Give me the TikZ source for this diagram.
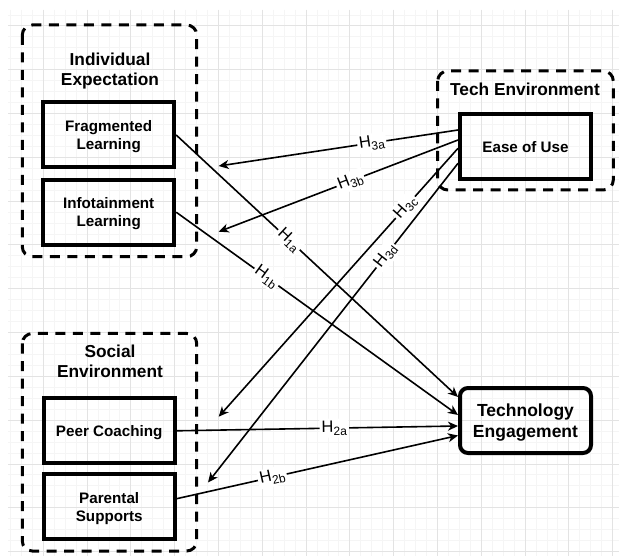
\documentclass[tikz,border=0pt]{standalone}
\usepackage{fontspec}
\setmainfont{Liberation Sans}
\usetikzlibrary{arrows.meta}

\newcommand{\hyplabel}[2]{#1\raisebox{-3.5pt}{\fontsize{12}{14}\selectfont #2}}

\begin{document}
\begin{tikzpicture}[
    x=1pt,y=-1pt,
    grid minor/.style={black!4,line width=1pt},
    grid major/.style={black!11,line width=1pt},
    group/.style={line width=3pt,rounded corners=10pt,
        dash pattern=on 10pt off 7.5pt},
    title/.style={align=center,
        font={\fontsize{17.3}{20}\selectfont\bfseries}},
    factor/.style={draw,line width=4pt,minimum width=131pt,
        minimum height=65pt,align=center,text depth=-3pt,
        font={\fontsize{15.2}{18}\selectfont\bfseries}},
    outcome/.style={factor,rounded corners=8pt,
        font={\fontsize{17.5}{21}\selectfont\bfseries}},
    hyp/.style={-{Stealth[length=10pt,width=9pt,inset=3pt]},
        line width=1.6pt},
    hlabel/.style={fill=white,sloped,inner sep=2pt,
        font={\fontsize{16.5}{18}\selectfont}},
    ]
    \useasboundingbox (0,0) rectangle (619,556);
    % Background grid
    \fill[white] (0,0) rectangle (619,556);
    \foreach \i in {-3,...,52}
        \draw[grid minor] ({43.3+10.95*\i},10) -- ({43.3+10.95*\i},556);
    \foreach \j in {-1,...,48}
        \draw[grid minor] (8,{26+10.95*\j}) -- (619,{26+10.95*\j});
    \foreach \i in {0,...,13}
        \draw[grid major] ({43.3+43.8*\i},10) -- ({43.3+43.8*\i},556);
    \foreach \j in {0,...,12}
        \draw[grid major] (8,{26+43.8*\j}) -- (619,{26+43.8*\j});
    % Groups
    \draw[group] (22.3,25) rectangle (196.7,256.7);
    \draw[group] (437.7,71) rectangle (613.3,190);
    \draw[group] (22.3,333.5) rectangle (196.7,551);
    \node[title] (indiv) at (110,71) {Individual\\Expectation};
    \node[title] (tech) at (525,89.3) {Tech Environment};
    \node[title] (social) at (110,361) {Social\\Environment};
    % Factors
    \node[factor] (frag) at (108.7,135) {Fragmented\\Learning};
    \node[factor] (info) at (108.7,212.2) {Infotainment\\Learning};
    \node[factor] (ease) at (525.5,146.7) {Ease of Use};
    \node[factor] (peer) at (109.2,430.8) {Peer Coaching};
    \node[factor] (parent) at (109.2,506.7) {Parental\\Supports};
    \node[outcome] (engage) at (525.5,420.5) {Technology\\Engagement};
    % Free ends of the H3 arrows
    \coordinate (h3a) at (218.7,166);
    \coordinate (h3b) at (218.7,231.7);
    \coordinate (h3c) at (218.7,416.7);
    \coordinate (h3d) at (208,482.5);
    % Hypotheses H1, H2
    \draw[hyp] (frag.east) -- ([yshift=23.5pt]engage.west)
        node[hlabel,pos=0.4] {\hyplabel{H}{1a}};
    \draw[hyp] (info.east) -- ([yshift=5.5pt]engage.west)
        node[hlabel,pos=0.32] {\hyplabel{H}{1b}};
    \draw[hyp] (peer.east) -- ([yshift=-5.5pt]engage.west)
        node[hlabel,pos=0.56] {\hyplabel{H}{2a}};
    \draw[hyp] ([yshift=8pt]parent.east) -- ([yshift=-15pt]engage.west)
        node[hlabel,pos=0.34] {\hyplabel{H}{2b}};
    % Hypotheses H3
    \draw[hyp] ([yshift=16.7pt]ease.west) -- (h3a)
        node[hlabel,pos=0.36] {\hyplabel{H}{3a}};
    \draw[hyp] ([yshift=6.7pt]ease.west) -- (h3b)
        node[hlabel,pos=0.45] {\hyplabel{H}{3b}};
    \draw[hyp] ([yshift=-1.6pt]ease.west) -- (h3c)
        node[hlabel,pos=0.22] {\hyplabel{H}{3c}};
    \draw[hyp] ([yshift=-16.6pt]ease.west) -- (h3d)
        node[hlabel,pos=0.29] {\hyplabel{H}{3d}};
\end{tikzpicture}
\end{document}
